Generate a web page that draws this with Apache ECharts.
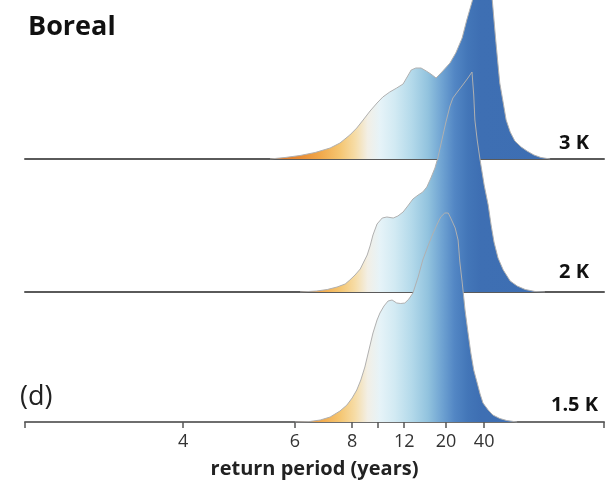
<!DOCTYPE html>
<html>
<head>
<meta charset="utf-8">
<script src="https://cdn.jsdelivr.net/npm/echarts@6/dist/echarts.min.js"></script>
<style>
  html, body { margin: 0; padding: 0; background: #ffffff; }
  #chart { width: 613px; height: 486px; }
</style>
</head>
<body>
<div id="chart"></div>
<script>
// ---- data (x: position along the return-period axis, 0..100; y: density) ----
var ridgeNames = ['3 K', '2 K', '1.5 K'];

var x3K = [42.3,44.9,47.5,50.1,52.7,54.4,56.1,57.3,58.4,59.6,60.8,61.8,63.0,64.2,65.3,66.0,66.7,67.5,68.4,69.3,70.1,71.0,72.0,73.4,74.4,75.5,76.3,77.2,78.1,78.8,79.4,80.1,80.7,81.0,81.3,81.7,82.0,82.6,83.1,83.8,84.6,85.7,86.7,87.9,89.1,90.7];
var d3K = [0,0.015,0.035,0.065,0.11,0.16,0.24,0.31,0.39,0.48,0.56,0.62,0.67,0.71,0.75,0.82,0.89,0.91,0.91,0.88,0.85,0.81,0.87,0.96,1.06,1.21,1.39,1.57,1.77,1.89,1.85,1.69,1.59,1.39,1.19,0.94,0.76,0.56,0.39,0.27,0.18,0.12,0.08,0.04,0.015,0];

var x2K = [47.5,50.4,52.2,53.9,55.3,56.1,57.0,57.9,58.5,59.1,59.6,60.1,60.8,61.7,62.5,63.6,64.4,65.3,66.1,67.0,67.9,68.7,69.4,70.1,70.8,71.3,72.0,72.7,73.4,73.9,74.8,75.6,76.5,77.2,77.5,77.7,78.1,78.6,79.3,80.0,80.5,81.0,81.7,82.6,83.8,85.0,86.4,88.1,89.8];
var d2K = [0,0.01,0.025,0.05,0.08,0.12,0.17,0.23,0.30,0.37,0.46,0.57,0.68,0.74,0.75,0.74,0.76,0.80,0.86,0.93,0.97,1.00,1.05,1.14,1.24,1.34,1.52,1.70,1.86,1.94,2.01,2.07,2.14,2.20,1.97,1.72,1.52,1.32,1.07,0.87,0.67,0.50,0.34,0.22,0.11,0.06,0.025,0.005,0];

var x15K = [46.6,49.2,51.0,52.7,54.4,55.6,56.5,57.3,58.0,58.7,59.4,60.1,60.8,61.3,62.0,62.7,63.4,64.2,64.9,65.6,66.3,67.0,67.9,68.7,69.6,70.5,71.2,71.8,72.5,73.1,73.6,74.3,74.8,75.1,75.5,76.0,76.5,77.0,77.5,78.1,78.6,79.1,80.0,80.8,82.0,83.2,85.0];
var d15K = [0,0.005,0.02,0.05,0.11,0.17,0.24,0.32,0.42,0.55,0.72,0.89,1.02,1.09,1.16,1.21,1.22,1.19,1.185,1.19,1.23,1.29,1.45,1.62,1.76,1.89,1.98,2.05,2.09,2.09,2.03,1.94,1.82,1.60,1.40,1.12,0.90,0.69,0.52,0.39,0.28,0.19,0.12,0.07,0.035,0.015,0];

// return-period tick positions on the axis and their labels
var tickPos = [0, 27.3, 46.6, 56.5, 61.0, 65.5, 72.7, 79.3, 100];
var labelPos = [27.3, 46.6, 56.5, 65.5, 72.7, 79.3];
var labelText = ['4', '6', '8', '12', '20', '40'];

function pairs(xs, ys) { return xs.map(function (v, i) { return [v, ys[i]]; }); }

var W = 613, H = 486;
var gridLeft = 25, gridRight = 9;
var baselines = [159, 292, 422];   // pixel rows of the three ridge baselines
var pxPerUnit = 100;

var grad = {
  type: 'linear', x: 0, y: 0, x2: W, y2: 0, global: true,
  colorStops: [
    { offset: 0.000, color: '#e27a2a' },
    { offset: 0.457, color: '#e27a2a' },
    { offset: 0.489, color: '#e98c34' },
    { offset: 0.522, color: '#f1a84a' },
    { offset: 0.555, color: '#f5c672' },
    { offset: 0.579, color: '#f6dca6' },
    { offset: 0.600, color: '#f2efe6' },
    { offset: 0.620, color: '#e6f3f8' },
    { offset: 0.644, color: '#d2eaf3' },
    { offset: 0.672, color: '#b3d9ea' },
    { offset: 0.698, color: '#92c3de' },
    { offset: 0.721, color: '#6fa3d2' },
    { offset: 0.742, color: '#5286c4' },
    { offset: 0.763, color: '#4376b8' },
    { offset: 0.783, color: '#3e6fb3' },
    { offset: 1.000, color: '#3c6db2' }
  ]
};

var FONT = '"Open Sans", "DejaVu Sans", sans-serif';

var grids = [], xAxes = [], yAxes = [];
baselines.forEach(function (b, i) {
  grids.push({ left: gridLeft, right: gridRight, top: 0, bottom: H - b });
  yAxes.push({ gridIndex: i, type: 'value', min: 0, max: b / pxPerUnit, show: false });
  var last = i === baselines.length - 1;
  xAxes.push({
    gridIndex: i, type: 'value', min: 0, max: 100,
    splitLine: { show: false },
    axisLine: { show: true, onZero: false, lineStyle: { color: last ? '#6e6e6e' : '#5a5a5a', width: 2 } },
    axisTick: last ? { show: true, customValues: tickPos, length: 6, lineStyle: { color: '#555', width: 1.5 } } : { show: false },
    axisLabel: last ? {
      show: true, customValues: labelPos, margin: 11,
      fontFamily: FONT, fontSize: 18, color: '#333',
      formatter: function (v) {
        var k = labelPos.indexOf(v);
        return k >= 0 ? labelText[k] : '';
      }
    } : { show: false },
    name: last ? 'return period (years)' : '',
    nameLocation: 'middle', nameGap: 37,
    nameTextStyle: { fontFamily: FONT, fontSize: 20, fontWeight: 'bold', color: '#222' }
  });
});

var seriesData = [pairs(x3K, d3K), pairs(x2K, d2K), pairs(x15K, d15K)];
var series = seriesData.map(function (d, i) {
  return {
    name: ridgeNames[i], type: 'line', xAxisIndex: i, yAxisIndex: i,
    data: d, symbol: 'none', smooth: false,
    lineStyle: { color: '#b0b0b0', width: 1 },
    areaStyle: { color: grad, opacity: 1 },
    z: 2 + i
  };
});

var labelY = [143.5, 272.5, 405];
var labelRight = [589, 589, 598];
var graphics = [
  { type: 'text', x: 28, y: 27, style: { text: 'Boreal', font: 'bold 27px ' + FONT, fill: '#111', textAlign: 'left', textVerticalAlign: 'middle' } },
  { type: 'text', x: 20, y: 397, style: { text: '(d)', font: '27px ' + FONT, fill: '#222', textAlign: 'left', textVerticalAlign: 'middle' } }
];
ridgeNames.forEach(function (n, i) {
  graphics.push({ type: 'text', x: labelRight[i], y: labelY[i], z: 10,
    style: { text: n, font: 'bold 20px ' + FONT, fill: '#111', textAlign: 'right', textVerticalAlign: 'middle' } });
});

var chart = echarts.init(document.getElementById('chart'), null, { renderer: 'canvas' });
chart.setOption({
  backgroundColor: '#ffffff',
  animation: false,
  grid: grids,
  xAxis: xAxes,
  yAxis: yAxes,
  series: series,
  graphic: graphics
});
</script>
</body>
</html>
